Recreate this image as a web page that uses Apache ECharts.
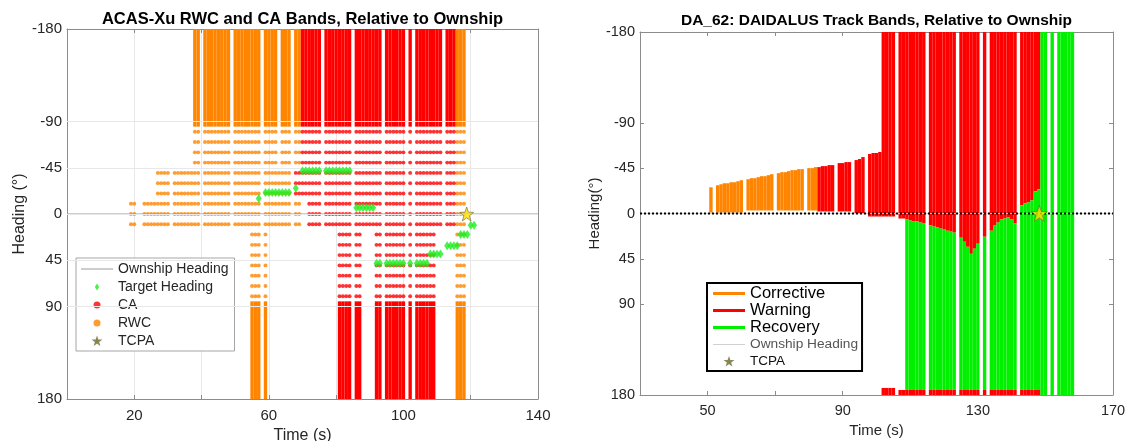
<!DOCTYPE html>
<html><head><meta charset="utf-8">
<script src="https://cdn.jsdelivr.net/npm/echarts@6/dist/echarts.min.js"></script>
<style>html,body{margin:0;padding:0;background:#fff}#c{width:1125px;height:441px}</style>
</head><body><div id="c"></div>
<script>
// ================= DATA =================
// shared heading ticks
const headingTicks = [-180, -90, -45, 0, 45, 90, 180];
const headingGrid = [-90, -45, 0, 45, 90];

// ---- Left chart: ACAS-Xu RWC and CA Bands ----
const acasXLabels = [20, 60, 100, 140];
const acasTopBand = [-180, -85];
const acasBottomBand = [85, 180];
const acasUpperRows = [-80, -70, -60, -50];
const acasMidRows = [-40, -30, -20];
const acasZeroRows = [-10, 0, 10];
const acasLowerRows = [20, 30, 40, 50, 60, 70, 80];
// time segments [first, last] (s)
const rwcUpperSegs = [[38,39],[41,48],[50,57],[59,62],[64,66],[68,69],[116,118]];
const caUpperSegs  = [[70,75],[77,84],[86,93],[95,100],[102,102],[104,111],[113,115]];
const rwcMidSegs   = [[27,30],[32,39],[41,48],[50,57],[59,66],[116,118]];
const caMidSegs    = [[68,75],[77,84],[86,93],[95,100],[102,102],[104,111],[113,115]];
const rwcZeroSegs  = [[19,20],[23,30],[32,39],[41,48],[50,57],[59,66],[68,69],[116,118]];
const caZeroSegs   = [[72,75],[77,84],[86,93],[95,100],[102,102],[104,111],[113,115]];
const rwcLowerSegs = [[55,57],[59,59],[116,118]];
const caLowerSegs  = [[81,84],[86,87],[92,93],[95,100],[102,102],[104,109]];
const targetTime = [57, 59,60,61,62,63,64,65,66, 68, 70,71,72,73,74,75, 77,78,79,80,81,82,83,84,
  86,87,88,89,90,91, 92,93, 95,96,97,98,99,100, 102, 104,105,106,107, 108,109,110,111,
  113,114,115,116, 117,118,119, 120,121];
const targetHeading = [-15, -21,-21,-21,-21,-21,-21,-21,-21, -25, -42,-42,-42,-42,-42,-42, -42,-42,-42,-42,-42,-42,-42,-42,
  -6,-6,-6,-6,-6,-6, 48,48, 48,48,48,48,48,48, 48, 48,48,48,48, 39,39,39,39,
  31,31,31,31, 20,20,20, 11,11];
const acasOwnshipTime = [0, 140];
const acasOwnshipHeading = [0, 0];
const acasTcpa = [118.8, 0];

// ---- Right chart: DAIDALUS Track Bands ----
const daXLabels = [50, 90, 130, 170];
const daCorrTime = [51, 53,54,55,56,57,58,59,60, 62,63,64,65,66,67,68,69, 71,72,73,74,75,76,77,78, 80,81,82];
const daCorrTop  = [-26, -28,-29,-30,-30,-31,-31,-32,-33, -34,-35,-35,-36,-37,-37,-38,-39, -40,-41,-41,-42,-43,-43,-44,-44, -45,-45,-46];
const daCorrBottom = [-1, -1,-1,-1,-1,-1,-1,-1,-1, -3,-3,-3,-3,-3,-3,-3,-3, -3,-3,-3,-3,-3,-3,-3,-3, -3,-3,-3];
const daWarnTime = [83,84,85,86,87, 89,90,91,92, 94,95,96, 98,99,100,101,
  102,103,104,105, 107,108, 109,110,111,112,113,114, 116,117,118,119,120,121,122,123,
  125,126,127,128,129,130, 132, 134,135,136,137,138,139,140,141, 143,144,145,146,147,148];
const daWarnTop = [-46,-47,-47,-48,-48, -50,-50,-51,-51, -53,-54,-56, -59,-60,-60,-61,
  -180,-180,-180,-180, -180,-180, -180,-180,-180,-180,-180,-180, -180,-180,-180,-180,-180,-180,-180,-180,
  -180,-180,-180,-180,-180,-180, -180, -180,-180,-180,-180,-180,-180,-180,-180, -180,-180,-180,-180,-180,-180];
const daWarnBottom = [-2,-2,-2,-2,-2, -2,-2,-2,-2, 0,0,0, 3,3,3,3,
  3,3,3,3, 5,5, 6,7,8,8,9,10, 12,13,14,15,16,17,18,19,
  24,28,33,40,35,30, 23, 17,12,9,6,5,4,6,10, -8,-10,-11,-13,-22,-24];
const daStripTime = [102,103,104,105, 107,108, 109,110,111,112,113,114, 116,117,118,119,120,121,122,123,
  125,126,127,128,129,130, 132, 134,135,136,137,138,139,140,141, 143,144,145,146,147,148];
const daStripTop = [173,173,173,173, 175,175, 175,175,175,175,175,175, 175,175,175,175,175,175,175,175,
  175,175,175,175,175,175, 175, 175,175,175,175,175,175,175,175, 175,175,175,175,175,175];
const daStripBottom = 180;
const daRecTime = [109,110,111,112,113,114, 116,117,118,119,120,121,122,123, 125,126,127,128,129,130, 132,
  134,135,136,137,138,139,140,141, 143,144,145,146,147,148, 149,150, 152, 154,155,156,157,158];
const daRecTop = [6,7,8,8,9,10, 12,13,14,15,16,17,18,19, 24,28,33,40,35,30, 23,
  17,12,9,6,5,4,6,10, -8,-10,-11,-13,-22,-24, -180,-180, -180, -180,-180,-180,-180,-180];
const daRecBottom = [175,175,175,175,175,175, 175,175,175,175,175,175,175,175, 175,175,175,175,175,175, 175,
  175,175,175,175,175,175,175,175, 175,175,175,175,175,175, 180,180, 180, 180,180,180,180,180];
const daOwnshipTime = [30, 170];
const daOwnshipHeading = [0, 0];
const daTcpa = [148.2, 0];

// ================= BUILD =================
const ORANGE = '#ff8400', RED = '#ff0000', GREEN = '#00f000', TGREEN = '#20ee20';
const AXC = '#8c8c8c', TXC = '#262626';
const FONT = 'Liberation Sans, Arial, Helvetica, sans-serif';
const starPath = 'path://M10,0L12.35,6.76L19.51,6.91L13.8,11.24L15.88,18.09L10,14L4.12,18.09L6.2,11.24L0.49,6.91L7.65,6.76Z';
const starIcon = 'path://M-6,-4M26,22M10,0L12.35,6.76L19.51,6.91L13.8,11.24L15.88,18.09L10,14L4.12,18.09L6.2,11.24L0.49,6.91L7.65,6.76Z';
const diamondPath = 'path://M0,4L2.5,0L5,4L2.5,8Z';
const barIcon = 'path://M0,0h32v3h-32z';
const thinIcon = 'path://M0,0h32v1h-32z';

function expand(segs){ const out=[]; segs.forEach(s=>{ for(let t=s[0]; t<=s[1]; t++) out.push(t); }); return out; }
function dots(rows, segs){ const ts = expand(segs); const out=[]; rows.forEach(h=>ts.forEach(t=>out.push([t,h]))); return out; }
function band(range, segs){ return expand(segs).map(t=>[t, range[0], range[1]]); }
function zip3(a,b,c){ return a.map((v,i)=>[v, b[i], Array.isArray(c)?c[i]:c]); }

const rwcDots = [].concat(dots(acasUpperRows, rwcUpperSegs), dots(acasMidRows, rwcMidSegs), dots(acasZeroRows, rwcZeroSegs), dots(acasLowerRows, rwcLowerSegs));
const caDots  = [].concat(dots(acasUpperRows, caUpperSegs), dots(acasMidRows, caMidSegs), dots(acasZeroRows, caZeroSegs), dots(acasLowerRows, caLowerSegs));
const rwcBands = [].concat(band(acasTopBand, rwcUpperSegs), band(acasBottomBand, rwcLowerSegs));
const caBands  = [].concat(band(acasTopBand, caUpperSegs), band(acasBottomBand, caLowerSegs));

function bandRender(params, api){
  const t = api.value(0), lo = api.value(1), hi = api.value(2);
  const a = api.coord([t - 0.5, lo]);
  const b = api.coord([t + 0.5, hi]);
  return {type:'rect', shape:{x:Math.min(a[0],b[0]), y:Math.min(a[1],b[1]), width:Math.abs(b[0]-a[0]), height:Math.abs(b[1]-a[1])},
          style:{fill: api.visual('color')}};
}
function customBand(name, color, data, xi){
  return {name, type:'custom', xAxisIndex:xi, yAxisIndex:xi, renderItem:bandRender, data, clip:true, silent:true,
          itemStyle:{color}, encode:{x:0, y:[1,2]}, z:2};
}

function makeX(gridIndex, min, max, labels, position, showGrid, name, nameGap, fs, nfs, margin){
  const main = position === 'bottom';
  return {gridIndex, type:'value', min, max, interval:20, position,
    axisLine:{show:true, onZero:false, lineStyle:{color:AXC, width:1}},
    axisTick:{show:true, inside:true, length:4, lineStyle:{color:AXC}},
    axisLabel:{show:main, formatter:v=>labels.includes(v)?String(v):'', fontSize:fs, color:TXC, margin:margin, fontFamily:FONT,
               showMinLabel:true, showMaxLabel:true},
    splitLine:{show:main && showGrid, lineStyle:{color:'#e8e8e8', width:1}},
    name: main?name:'', nameLocation:'middle', nameGap, nameTextStyle:{fontSize:nfs, color:TXC, fontFamily:FONT}};
}
function makeY(gridIndex, position, name, nameGap, fs, nfs){
  const main = position === 'left';
  return {gridIndex, type:'value', min:-180, max:180, interval:45, inverse:true, position,
    axisLine:{show:true, onZero:false, lineStyle:{color:AXC, width:1}},
    axisTick:{show:true, inside:true, length:4, customValues:headingTicks, lineStyle:{color:AXC}},
    axisLabel:{show:main, customValues:headingTicks, formatter:v=>headingTicks.includes(v)?String(v):'', fontSize:fs, color:TXC, margin:5, fontFamily:FONT,
               showMinLabel:true, showMaxLabel:true},
    splitLine:{show:false},
    name: main?name:'', nameLocation:'middle', nameGap, nameRotate:90, nameTextStyle:{fontSize:nfs, color:TXC, fontFamily:FONT}};
}

const option = {
  animation:false,
  textStyle:{fontFamily:FONT},
  title:[
    {text:'ACAS-Xu RWC and CA Bands, Relative to Ownship', left:302.5, top:11, textAlign:'center', padding:0,
     textStyle:{fontSize:16.5, fontWeight:'bold', color:'#000', fontFamily:FONT}},
    {text:'DA_62: DAIDALUS Track Bands, Relative to Ownship', left:876.5, top:13, textAlign:'center', padding:0,
     textStyle:{fontSize:15.5, fontWeight:'bold', color:'#000', fontFamily:FONT}}
  ],
  grid:[
    {left:67, top:29, width:471, height:370, containLabel:false, outerBoundsMode:'none'},
    {left:640, top:32, width:473, height:363, containLabel:false, outerBoundsMode:'none'}
  ],
  xAxis:[
    makeX(0, 0, 140, acasXLabels, 'bottom', true, 'Time (s)', 25, 15, 16, 9),
    makeX(0, 0, 140, acasXLabels, 'top', false, '', 0, 15, 16, 8),
    makeX(1, 30, 170, daXLabels, 'bottom', false, 'Time (s)', 26, 14.5, 15, 8),
    makeX(1, 30, 170, daXLabels, 'top', false, '', 0, 14.5, 15, 8)
  ],
  yAxis:[
    makeY(0, 'left', 'Heading (°)', 37, 15, 16),
    makeY(0, 'right', '', 0, 15, 16),
    makeY(1, 'left', 'Heading(°)', 37, 14.5, 15),
    makeY(1, 'right', '', 0, 14.5, 15)
  ],
  legend:[
    {left:76, top:258, orient:'vertical', padding:[2,6,1,5], itemGap:0, itemWidth:32, itemHeight:7,
     borderColor:'#a6a6a6', borderWidth:1, backgroundColor:'#fff', selectedMode:false,
     textStyle:{fontSize:14, color:TXC, lineHeight:18, fontFamily:FONT},
     data:[
       {name:'Ownship Heading', icon:thinIcon, itemStyle:{color:'#9a9a9a'}},
       {name:'Target Heading', icon:diamondPath},
       {name:'CA', icon:'circle'},
       {name:'RWC', icon:'circle'},
       {name:'TCPA', icon:starIcon}
     ]},
    {left:707, top:283, orient:'vertical', padding:[2,4,1,6], itemGap:0, itemWidth:32, itemHeight:7,
     borderColor:'#000', borderWidth:2, backgroundColor:'#fff', selectedMode:false,
     textStyle:{fontSize:14, color:'#000', lineHeight:17, fontFamily:FONT},
     data:[
       {name:'Corrective', icon:barIcon, textStyle:{fontSize:16.5, lineHeight:17, color:'#000'}},
       {name:'Warning', icon:barIcon, textStyle:{fontSize:16.5, lineHeight:17, color:'#000'}},
       {name:'Recovery', icon:barIcon, textStyle:{fontSize:16.5, lineHeight:17, color:'#000'}},
       {name:'Ownship Heading', icon:thinIcon, itemStyle:{color:'#d0d0d0'}, textStyle:{fontSize:13.7, lineHeight:17, color:'#555'}},
       {name:'TCPA', icon:starIcon, textStyle:{fontSize:13.5, lineHeight:17, color:'#111'}}
     ]}
  ],
  series:[
    // ---- left ----
    {name:'grid-left', type:'line', xAxisIndex:0, yAxisIndex:0, data:[[0,0]], showSymbol:false, silent:true, z:0,
     lineStyle:{width:0},
     markLine:{silent:true, symbol:'none', label:{show:false}, lineStyle:{color:'#e8e8e8', width:1, type:'solid'},
               data: headingGrid.map(v=>({yAxis:v}))}},
    customBand('RWC band', ORANGE, rwcBands, 0),
    customBand('CA band', RED, caBands, 0),
    {name:'RWC', type:'scatter', xAxisIndex:0, yAxisIndex:0, data:rwcDots, symbol:'circle', symbolSize:3.9, silent:true,
     itemStyle:{color:ORANGE}, z:3},
    {name:'CA', type:'scatter', xAxisIndex:0, yAxisIndex:0, data:caDots, symbol:'circle', symbolSize:3.9, silent:true,
     itemStyle:{color:RED}, z:3},
    {name:'Ownship Heading', type:'line', xAxisIndex:0, yAxisIndex:0, data:acasOwnshipTime.map((t,i)=>[t, acasOwnshipHeading[i]]),
     symbol:'none', silent:true, lineStyle:{color:'#9a9a9a', width:1}, itemStyle:{color:'#9a9a9a'}, z:4},
    {name:'Target Heading', type:'scatter', xAxisIndex:0, yAxisIndex:0, data:targetTime.map((t,i)=>[t, targetHeading[i]]),
     symbol:'diamond', symbolSize:[6,9], silent:true, itemStyle:{color:TGREEN}, z:5},
    {name:'TCPA', type:'scatter', xAxisIndex:0, yAxisIndex:0, data:[acasTcpa], symbol:starPath, symbolSize:[14,14], silent:true,
     itemStyle:{color:'#ffe000', borderColor:'#6b6b3a', borderWidth:0.8}, z:6},
    // ---- right ----
    customBand('Corrective', ORANGE, zip3(daCorrTime, daCorrTop, daCorrBottom), 2),
    customBand('Warning', RED, [].concat(zip3(daWarnTime, daWarnTop, daWarnBottom), zip3(daStripTime, daStripTop, daStripBottom)), 2),
    customBand('Recovery', GREEN, zip3(daRecTime, daRecTop, daRecBottom), 2),
    {name:'Ownship Heading', type:'line', xAxisIndex:2, yAxisIndex:2, data:daOwnshipTime.map((t,i)=>[t, daOwnshipHeading[i]]),
     symbol:'none', silent:true, lineStyle:{color:'#d0d0d0', width:1}, z:4},
    {name:'zero-dotted', type:'line', xAxisIndex:2, yAxisIndex:2, data:daOwnshipTime.map((t,i)=>[t, daOwnshipHeading[i]]),
     symbol:'none', silent:true, lineStyle:{color:'#000', width:2, type:'dotted'}, z:5},
    {name:'TCPA', type:'scatter', xAxisIndex:2, yAxisIndex:2, data:[daTcpa], symbol:starPath, symbolSize:[16,16], silent:true,
     itemStyle:{color:'#ffe000', borderColor:'#6b6b3a', borderWidth:0.8}, z:6}
  ]
};
const chart = echarts.init(document.getElementById('c'), null, {renderer:'canvas'});
chart.setOption(option);
</script>
</body></html>
